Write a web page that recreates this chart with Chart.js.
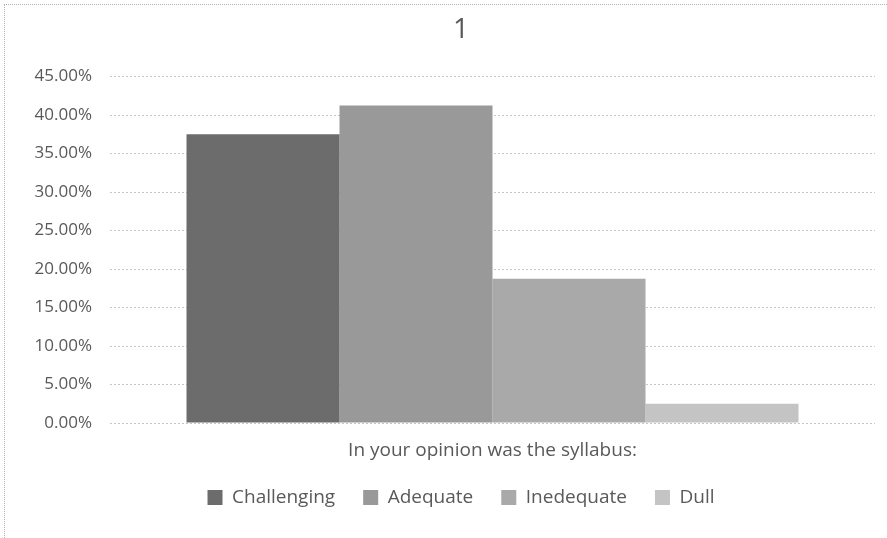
<!DOCTYPE html>
<html>
<head>
<meta charset="utf-8">
<script src="https://cdn.jsdelivr.net/npm/chart.js@4/dist/chart.umd.min.js"></script>
<style>
  html, body { margin: 0; padding: 0; background: #fff; overflow: hidden; }
  #wrap { position: absolute; left: 4px; top: 4px; width: 912px; height: 545px;
          border-left: 1px dotted #b0b0b0; border-top: 1px dotted #b0b0b0; }
</style>
</head>
<body>
<div id="wrap"><canvas id="chart"></canvas></div>
<script>
// Data (percent of respondents)
const categories = ['In your opinion was the syllabus:'];
const seriesNames = ['Challenging', 'Adequate', 'Inedequate', 'Dull'];
const seriesValues = [[37.5], [41.25], [18.75], [2.5]];
const seriesColors = ['#6c6c6c', '#999999', '#a9a9a9', '#c4c4c4'];

const textGray = '#595959';
const font = "'Open Sans', Lato, sans-serif";

const datasets = seriesNames.map((name, i) => ({
    label: name,
    data: seriesValues[i],
    backgroundColor: seriesColors[i],
    borderWidth: 0,
    categoryPercentage: 0.8,
    barPercentage: 1.0
}));

const ctx = document.getElementById('chart').getContext('2d');
new Chart(ctx, {
    type: 'bar',
    data: {
        labels: categories,
        datasets: datasets
    },
    options: {
        responsive: true,
        maintainAspectRatio: false,
        animation: false,
        layout: {
            padding: { left: 0, right: 0, top: 0, bottom: 33 }
        },
        plugins: {
            title: {
                display: true,
                text: '1',
                color: textGray,
                font: { family: font, size: 28, weight: 'normal' },
                padding: { top: 8, bottom: 30 }
            },
            legend: {
                display: true,
                position: 'bottom',
                labels: {
                    color: textGray,
                    font: { family: font, size: 19 },
                    boxWidth: 15,
                    boxHeight: 15,
                    padding: 28
                }
            },
            tooltip: { enabled: false }
        },
        scales: {
            x: {
                clip: false,
                grid: { display: false },
                border: { display: false },
                afterFit: axis => { axis.height = 37; },
                ticks: {
                    color: textGray,
                    font: { family: font, size: 19 },
                    padding: 8
                }
            },
            y: {
                min: 0,
                max: 45,
                afterFit: axis => { axis.width = 105; },
                ticks: {
                    stepSize: 5,
                    color: textGray,
                    font: { family: font, size: 17 },
                    padding: 18,
                    callback: v => v.toFixed(2) + '%'
                },
                grid: {
                    color: '#c6c6c6',
                    drawTicks: false
                },
                border: { display: false, dash: [2, 2] }
            },
            // empty right-hand axis, only to keep the plot's right margin
            yRight: {
                position: 'right',
                grid: { display: false },
                border: { display: false },
                ticks: { display: false },
                afterFit: axis => { axis.width = 42; }
            }
        }
    }
});
</script>
</body>
</html>
